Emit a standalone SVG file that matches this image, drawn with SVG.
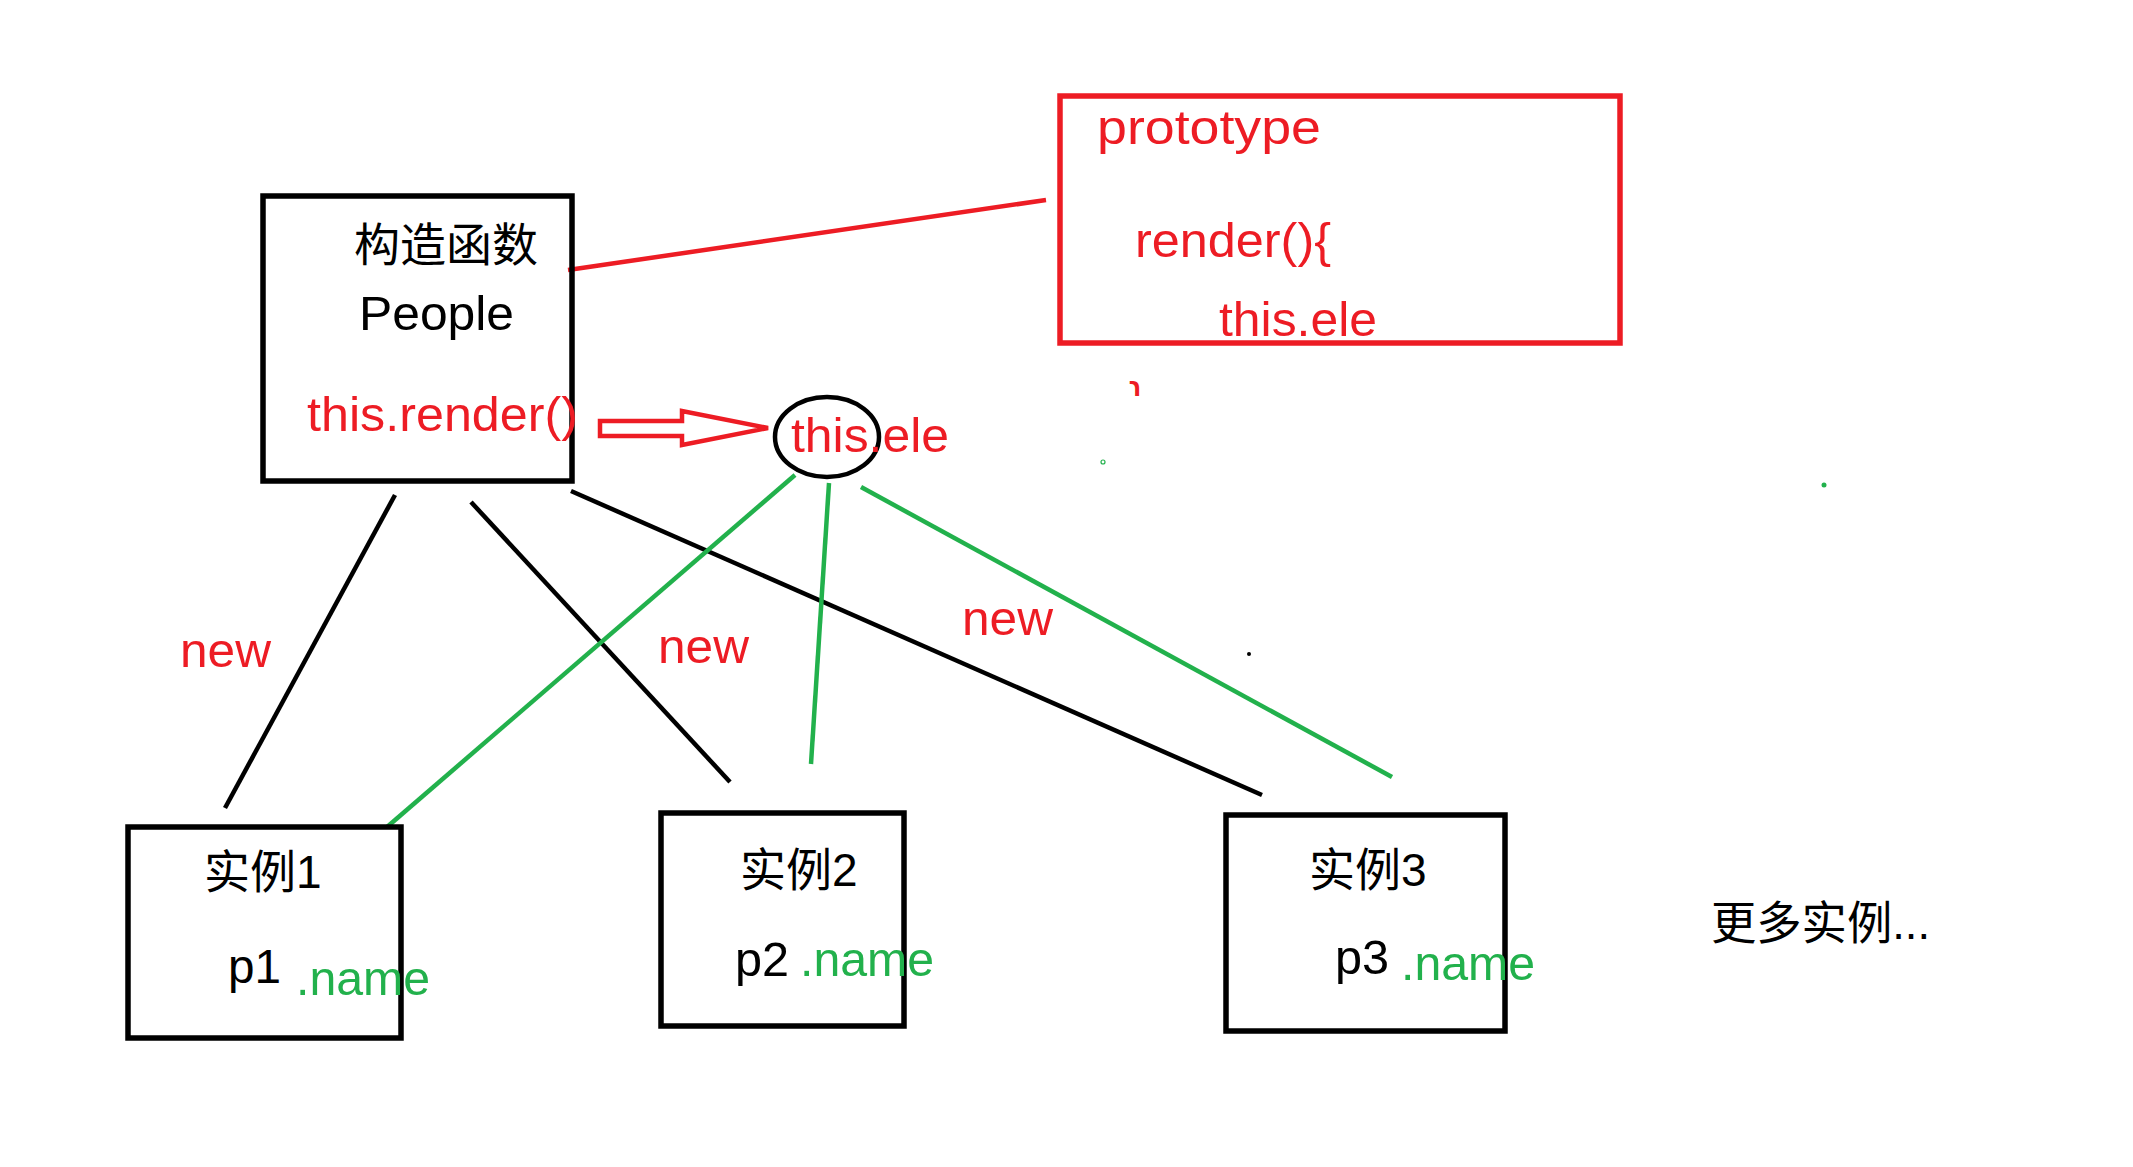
<svg xmlns="http://www.w3.org/2000/svg" width="2133" height="1167" viewBox="0 0 2133 1167">
<style>
.t{font-family:"Liberation Sans","Noto Sans CJK SC",sans-serif;font-size:48px}
.c{font-size:46px}
.blk{fill:#000}
.red{fill:#ed1c24}
.grn{fill:#22b14c}
.box{fill:none;stroke:#000;stroke-width:5.5}
.rbox{fill:none;stroke:#ed1c24;stroke-width:5.5}
.lk{stroke:#000;stroke-width:4.5;fill:none}
.lr{stroke:#ed1c24;stroke-width:4.5;fill:none}
.lg{stroke:#22b14c;stroke-width:4.5;fill:none}
</style>
<defs>
<clipPath id="braceClip"><rect x="1127" y="377" width="30" height="19"/></clipPath>
</defs>
<rect width="2133" height="1167" fill="#fff"/>

<g id="connectors">
<line class="lr" x1="568" y1="270" x2="1046" y2="200"/>
<line class="lk" x1="395" y1="495" x2="225" y2="808"/>
<line class="lk" x1="471" y1="502" x2="730" y2="782"/>
<line class="lk" x1="571" y1="491" x2="1262" y2="795"/>
<line class="lg" x1="795" y1="475" x2="387" y2="827"/>
<line class="lg" x1="829" y1="483" x2="811" y2="764"/>
<line class="lg" x1="861" y1="487" x2="1392" y2="777"/>
<path id="hollow-arrow" class="lr" d="M600,421 L682,421 L682,411 L768,428 L682,445 L682,436 L600,436 Z"/>
<text class="t red" x="180" y="667" textLength="91" lengthAdjust="spacingAndGlyphs">new</text>
<text class="t red" x="658" y="663" textLength="91" lengthAdjust="spacingAndGlyphs">new</text>
<text class="t red" x="962" y="635" textLength="91" lengthAdjust="spacingAndGlyphs">new</text>
</g>

<g id="people">
<rect class="box" x="263" y="196" width="309" height="285"/>
<text class="t c blk" x="354" y="261">构造函数</text>
<text class="t blk" x="359" y="330" textLength="155" lengthAdjust="spacingAndGlyphs">People</text>
<text class="t red" x="307" y="431" textLength="271" lengthAdjust="spacingAndGlyphs">this.render()</text>
</g>

<g id="prototype">
<rect class="rbox" x="1060" y="96" width="560" height="247"/>
<text class="t red" x="1097" y="144" textLength="224" lengthAdjust="spacingAndGlyphs">prototype</text>
<text class="t red" x="1135" y="257" textLength="196" lengthAdjust="spacingAndGlyphs">render(){</text>
<text class="t red" x="1219" y="336" textLength="158" lengthAdjust="spacingAndGlyphs">this.ele</text>
<text class="t red" x="1129" y="416" clip-path="url(#braceClip)">}</text>
</g>

<g id="this-ele">
<ellipse cx="827" cy="437" rx="52" ry="40" fill="none" stroke="#000" stroke-width="4.5"/>
<text class="t red" x="791" y="452" textLength="158" lengthAdjust="spacingAndGlyphs">this.ele</text>
</g>

<g id="instance1">
<rect class="box" x="128" y="827" width="273" height="211"/>
<text class="t c blk" x="204" y="888">实例1</text>
<text class="t blk" x="228" y="983" textLength="53" lengthAdjust="spacingAndGlyphs">p1</text>
<text class="t grn" x="296" y="995" textLength="134" lengthAdjust="spacingAndGlyphs">.name</text>
</g>

<g id="instance2">
<rect class="box" x="661" y="813" width="243" height="213"/>
<text class="t c blk" x="740" y="886">实例2</text>
<text class="t blk" x="735" y="976" textLength="54" lengthAdjust="spacingAndGlyphs">p2</text>
<text class="t grn" x="800" y="976" textLength="134" lengthAdjust="spacingAndGlyphs">.name</text>
</g>

<g id="instance3">
<rect class="box" x="1226" y="815" width="279" height="216"/>
<text class="t c blk" x="1309" y="886">实例3</text>
<text class="t blk" x="1335" y="974" textLength="54" lengthAdjust="spacingAndGlyphs">p3</text>
<text class="t grn" x="1401" y="980" textLength="134" lengthAdjust="spacingAndGlyphs">.name</text>
</g>

<g id="more">
<text class="t c blk" x="1711" y="939" textLength="219" lengthAdjust="spacingAndGlyphs">更多实例...</text>
</g>

<g id="specks">
<circle cx="1103" cy="462" r="2" fill="none" stroke="#22b14c" stroke-width="1.2"/>
<circle cx="1824" cy="485" r="2.5" fill="#22b14c"/>
<circle cx="1249" cy="654" r="2" fill="#000"/>
</g>
</svg>
